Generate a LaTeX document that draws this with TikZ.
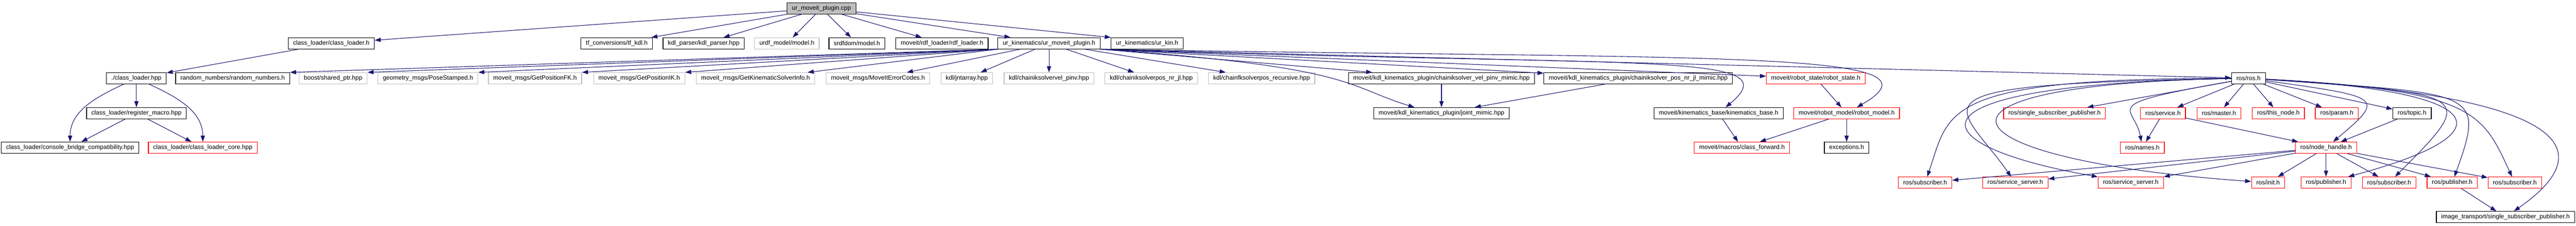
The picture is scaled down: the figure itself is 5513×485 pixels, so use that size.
\documentclass[tikz,border=0pt]{standalone}
\usepackage{fontspec}
\setmainfont{Liberation Sans}
\usetikzlibrary{arrows.meta}
\definecolor{edgeblue}{HTML}{191970}
\definecolor{nodegray}{HTML}{BFBFBF}
\begin{document}
\begin{tikzpicture}[x=0.25pt,y=0.25pt,
    hdr/.style={draw=black,line width=0.33pt,rectangle,minimum height=6pt,
      inner xsep=2.6pt,inner ysep=0pt,font=\fontsize{3.325}{4}\selectfont},
    hdrgray/.style={hdr,draw=nodegray},
    hdrred/.style={hdr,draw=red},
    hdrroot/.style={hdr,fill=nodegray},
    incl/.style={draw=edgeblue,line width=0.3pt,-{Triangle[length=3.25pt,width=2.25pt]}}]
      \useasboundingbox (0,0) rectangle (5513,485);
      \draw
        (1758,467) node[hdrroot] (main){ur\_moveit\_plugin.cpp}
        (709,392) node[hdr] (clh){class\_loader/class\_loader.h}
        (1320,392) node[hdr] (tfkdl){tf\_conversions/tf\_kdl.h}
        (1506,392) node[hdr] (kdlparser){kdl\_parser/kdl\_parser.hpp}
        (1684,392) node[hdrgray] (urdf){urdf\_model/model.h}
        (1834,392) node[hdr] (srdf){srdfdom/model.h}
        (2016,392) node[hdr] (rdf){moveit/rdf\_loader/rdf\_loader.h}
        (2245,392) node[hdr] (plugh){ur\_kinematics/ur\_moveit\_plugin.h}
        (2455,392) node[hdr] (urkin){ur\_kinematics/ur\_kin.h}
        (292,317) node[hdr] (clhpp){./class\_loader.hpp}
        (498,317) node[hdr] (random){random\_numbers/random\_numbers.h}
        (713,317) node[hdrgray] (shptr){boost/shared\_ptr.hpp}
        (916,317) node[hdrgray] (pose){geometry\_msgs/PoseStamped.h}
        (1145,317) node[hdrgray] (fk){moveit\_msgs/GetPositionFK.h}
        (1368,317) node[hdrgray] (ik){moveit\_msgs/GetPositionIK.h}
        (1617,317) node[hdrgray] (info){moveit\_msgs/GetKinematicSolverInfo.h}
        (1879,317) node[hdrgray] (err){moveit\_msgs/MoveItErrorCodes.h}
        (2069,317) node[hdrgray] (jnt){kdl/jntarray.hpp}
        (2245,317) node[hdrgray] (velpinv){kdl/chainiksolvervel\_pinv.hpp}
        (2464,317) node[hdrgray] (posnrjl){kdl/chainiksolverpos\_nr\_jl.hpp}
        (2700,317) node[hdrgray] (fkrec){kdl/chainfksolverpos\_recursive.hpp}
        (3085,317) node[hdr] (velmimic){moveit/kdl\_kinematics\_plugin/chainiksolver\_vel\_pinv\_mimic.hpp}
        (3506,317) node[hdr] (posmimic){moveit/kdl\_kinematics\_plugin/chainiksolver\_pos\_nr\_jl\_mimic.hpp}
        (3886,317) node[hdrred] (rstate){moveit/robot\_state/robot\_state.h}
        (4812,317) node[hdr] (ros){ros/ros.h}
        (292,242) node[hdr] (regmacro){class\_loader/register\_macro.hpp}
        (3085,242) node[hdr] (jmimic){moveit/kdl\_kinematics\_plugin/joint\_mimic.hpp}
        (3678,242) node[hdr] (kinbase){moveit/kinematics\_base/kinematics\_base.h}
        (3952,242) node[hdrred] (rmodel){moveit/robot\_model/robot\_model.h}
        (4397,242) node[hdrred] (rssp){ros/single\_subscriber\_publisher.h}
        (4629,242) node[hdrred] (service){ros/service.h}
        (4749,242) node[hdrred] (master){ros/master.h}
        (4876,242) node[hdrred] (thisnode){ros/this\_node.h}
        (5001,242) node[hdrred] (param){ros/param.h}
        (5162,242) node[hdr] (topic){ros/topic.h}
        (150,168) node[hdr] (cbc){class\_loader/console\_bridge\_compatibility.hpp}
        (434,168) node[hdrred] (core){class\_loader/class\_loader\_core.hpp}
        (3728,168) node[hdrred] (fwd){moveit/macros/class\_forward.h}
        (3952,168) node[hdr] (exc){exceptions.h}
        (4585,168) node[hdrred] (names){ros/names.h}
        (4978,168) node[hdrred] (nh){ros/node\_handle.h}
        (4120,93) node[hdrred] (sub1){ros/subscriber.h}
        (4313,93) node[hdrred] (srv1){ros/service\_server.h}
        (4560,93) node[hdrred] (srv2){ros/service\_server.h}
        (4854,93) node[hdrred] (init){ros/init.h}
        (4978,93) node[hdrred] (pub1){ros/publisher.h}
        (5113,93) node[hdrred] (sub2){ros/subscriber.h}
        (5248,93) node[hdrred] (pub2){ros/publisher.h}
        (5382,93) node[hdrred] (sub3){ros/subscriber.h}
        (5362,19) node[hdr] (itssp){image\_transport/single\_subscriber\_publisher.h};
      \begin{scope}[incl]
        \draw (main) to (clh);
        \draw (main) to (tfkdl);
        \draw (main) to (kdlparser);
        \draw (main) to (urdf);
        \draw (main) to (srdf);
        \draw (main) to (rdf);
        \draw (main) to (plugh);
        \draw (main) to (urkin.north west);
        \draw (clh) to (clhpp);
        \draw (clhpp) to (regmacro);
        \draw (clhpp) to[out=205,in=90] (cbc);
        \draw (clhpp) to[out=-25,in=90] (core);
        \draw (regmacro) to (cbc);
        \draw (regmacro) to (core);
        \draw (plugh.south west) to (random.north east);
        \draw (plugh.south west) to (shptr.north east);
        \draw (plugh.south west) to (pose.north east);
        \draw (plugh.south west) to (fk.north east);
        \draw (plugh.south west) to (ik.north east);
        \draw (plugh.south west) to ([xshift=-4pt]info.north east);
        \draw (plugh) to (err);
        \draw (plugh) to (jnt);
        \draw (plugh) to (velpinv);
        \draw (plugh) to (posnrjl);
        \draw (plugh) to (fkrec);
        \draw (plugh.south east) to (velmimic);
        \draw (plugh.south east) to (posmimic);
        \draw (plugh.south east) to (rstate);
        \draw (plugh.south east) to (ros);
        \draw (plugh.south east) to[out=-4,in=163,out distance=137pt,in distance=38.5pt] ([xshift=-14.5pt]jmimic.north);
        \draw (plugh.south east) to[out=-2,in=40,out distance=287.5pt,in distance=47.5pt] (kinbase);
        \draw (plugh.south east) to[out=-1,in=30,out distance=325pt,in distance=62.5pt] (rmodel);
        \draw (velmimic) to (jmimic);
        \draw (posmimic) to (jmimic);
        \draw (kinbase) to (fwd);
        \draw (rstate) to (rmodel);
        \draw (rmodel) to (fwd);
        \draw (rmodel) to (exc);
        \draw (ros) to (rssp);
        \draw (ros) to (service);
        \draw (ros) to (master);
        \draw (ros) to (thisnode);
        \draw (ros) to (param);
        \draw (ros) to (topic);
        \draw (ros) to[out=190,in=100,out distance=75pt,in distance=20pt] (names);
        \draw (ros) to[out=-8,in=40,out distance=62.5pt,in distance=37.5pt] (nh);
        \draw (ros) to[out=180,in=71,out distance=156pt,in distance=37.5pt] (sub1);
        \draw (ros) to[out=181,in=125,out distance=181pt,in distance=50pt] (srv1);
        \draw (ros) to[out=181,in=170,out distance=181pt,in distance=100pt] (srv2);
        \draw (ros) to[out=181,in=176,out distance=181pt,in distance=167.5pt] (init);
        \draw (ros) to[out=-3,in=15,out distance=125pt,in distance=87.5pt] (pub1);
        \draw (ros) to[out=-4,in=45,out distance=112.5pt,in distance=62.5pt] (sub2);
        \draw (ros) to[out=-4,in=70,out distance=112.5pt,in distance=50pt] (pub2);
        \draw (ros) to[out=-3,in=115,out distance=112.5pt,in distance=37.5pt] (sub3);
        \draw (ros) to[out=-3,in=35,out distance=137.5pt,in distance=70pt] (itssp);
        \draw (service) to (names);
        \draw (service) to (nh);
        \draw (topic) to (nh);
        \draw (nh) to (sub1);
        \draw (nh) to (srv1);
        \draw (nh) to (srv2);
        \draw (nh) to (init);
        \draw (nh) to (pub1);
        \draw (nh) to (sub2);
        \draw (nh) to (pub2);
        \draw (nh) to (sub3);
        \draw (pub2) to (itssp);
      \end{scope}
    \end{tikzpicture}
\end{document}
